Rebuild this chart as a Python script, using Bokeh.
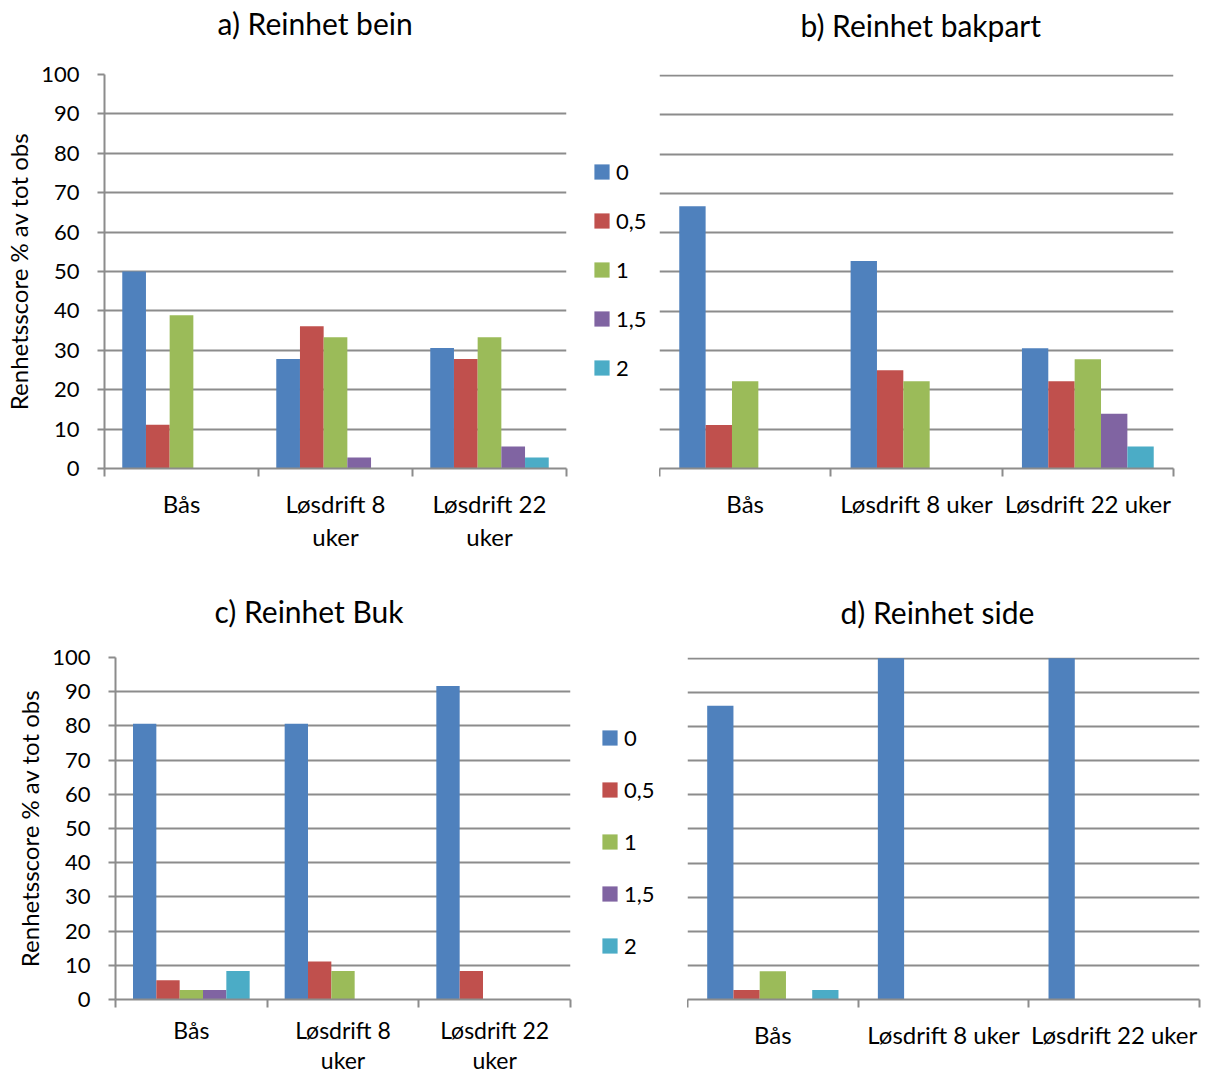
from bokeh.plotting import figure
from bokeh.models import (Range1d, FixedTicker, Legend, LegendItem, LinearAxis, Grid, Title)
from bokeh.layouts import row, column
from bokeh.embed import file_html
from bokeh.resources import INLINE

# ---------------- data ----------------
scores = ["0", "0,5", "1", "1,5", "2"]
colors = ["#4F81BD", "#C0504D", "#9BBB59", "#8064A2", "#4BACC6"]

categories_wrapped = ["Bås", "Løsdrift 8\nuker", "Løsdrift 22\nuker"]
categories_single = ["Bås", "Løsdrift 8 uker", "Løsdrift 22 uker"]

y_ticks = [0, 10, 20, 30, 40, 50, 60, 70, 80, 90, 100]
y_label = "Renhetsscore % av tot obs"

# values in % of total observations, per score, for Bås / Løsdrift 8 uker / Løsdrift 22 uker
bein = {"0": [50.0, 27.8, 30.6], "0,5": [11.1, 36.1, 27.8], "1": [38.9, 33.3, 33.3],
        "1,5": [0.0, 2.8, 5.6], "2": [0.0, 0.0, 2.8]}
bakpart = {"0": [66.7, 52.8, 30.6], "0,5": [11.1, 25.0, 22.2], "1": [22.2, 22.2, 27.8],
           "1,5": [0.0, 0.0, 13.9], "2": [0.0, 0.0, 5.6]}
buk = {"0": [80.6, 80.6, 91.7], "0,5": [5.6, 11.1, 8.3], "1": [2.8, 8.3, 0.0],
       "1,5": [2.8, 0.0, 0.0], "2": [8.3, 0.0, 0.0]}
side = {"0": [86.1, 100.0, 100.0], "0,5": [2.8, 0.0, 0.0], "1": [8.3, 0.0, 0.0],
        "1,5": [0.0, 0.0, 0.0], "2": [2.8, 0.0, 0.0]}

FONT = "Lato"
GRID = "#8c8c8c"
TXT = "#000000"
N = len(scores)
BAR_W = 1.0 / (N + 1.5)


def bar_x(ncat, j):
    return [i + 0.5 + (j - (N - 1) / 2) * BAR_W for i in range(ncat)]


def make_panel(title, cats, data, width, height, borders, show_y,
               title_gap, title_offset, xlab_font, xlab_standoff, xlab_lh):
    left, right, top, bottom = borders
    y_end = 100 if show_y else 100.25
    p = figure(width=width, height=height, output_backend="svg", toolbar_location=None,
               title=None,
               x_range=Range1d(0, 3), y_range=Range1d(0, y_end),
               x_axis_type=None, y_axis_type=None,
               min_border_left=left, min_border_right=right,
               min_border_top=top, min_border_bottom=bottom)
    p.outline_line_color = None
    p.background_fill_color = "white"
    p.border_fill_color = "white"

    # blank spacer between plot area and title, then the title itself
    p.add_layout(Title(text=" ", text_font_size="1px", standoff=title_gap), "above")
    p.add_layout(Title(text=title, text_font=FONT, text_font_size="30px",
                       text_font_style="normal", text_color=TXT,
                       align="left", vertical_align="bottom",
                       offset=title_offset, standoff=0), "above")

    # x axis: labels at category centres, ticks at category boundaries
    xt = FixedTicker(ticks=[0.5, 1.5, 2.5], minor_ticks=[0, 1, 2, 3])
    xa = LinearAxis(ticker=xt,
                    major_label_overrides={0.5: cats[0], 1.5: cats[1], 2.5: cats[2]},
                    major_tick_in=0, major_tick_out=0,
                    minor_tick_in=0, minor_tick_out=8,
                    minor_tick_line_color=GRID, minor_tick_line_width=2,
                    axis_line_color=GRID, axis_line_width=2,
                    major_label_standoff=xlab_standoff,
                    major_label_text_font=FONT, major_label_text_font_size=xlab_font,
                    major_label_text_color=TXT, major_label_text_line_height=xlab_lh)
    p.add_layout(xa, "below")

    yt = FixedTicker(ticks=y_ticks)
    if show_y:
        ya = LinearAxis(ticker=yt,
                        axis_label=y_label,
                        axis_label_text_font=FONT, axis_label_text_font_size="24px",
                        axis_label_text_font_style="normal", axis_label_text_color=TXT,
                        axis_label_standoff=5,
                        major_tick_in=0, major_tick_out=7,
                        major_tick_line_color=GRID, major_tick_line_width=2,
                        minor_tick_line_color=None,
                        axis_line_color=GRID, axis_line_width=2,
                        major_label_standoff=18,
                        major_label_text_font=FONT, major_label_text_font_size="22px",
                        major_label_text_color=TXT)
        p.add_layout(ya, "left")
    p.add_layout(Grid(dimension=1, ticker=yt, grid_line_color=GRID, grid_line_width=2))

    for j, (s, c) in enumerate(zip(scores, colors)):
        p.vbar(x=bar_x(len(cats), j), top=data[s], bottom=0, width=BAR_W,
               fill_color=c, line_color=None)
    return p


def make_legend(width, height, data, spacing, loc):
    """Narrow figure holding the shared legend of the score colours.
    Its renderers carry the panel's data but are hidden; only the legend shows."""
    p = figure(width=width, height=height, output_backend="svg", toolbar_location=None,
               title=None, x_axis_type=None, y_axis_type=None,
               x_range=Range1d(0, 3), y_range=Range1d(0, 100),
               min_border=0)
    p.outline_line_color = None
    p.grid.visible = False
    items = []
    for j, (s, c) in enumerate(zip(scores, colors)):
        r = p.vbar(x=bar_x(3, j), top=data[s], bottom=0, width=BAR_W,
                   fill_color=c, line_color=None, visible=False)
        items.append(LegendItem(label=s, renderers=[r]))
    lg = Legend(items=items, location=loc, orientation="vertical",
                glyph_width=19, glyph_height=19, label_standoff=5,
                label_height=28, spacing=spacing, padding=5, margin=0,
                border_line_color=None, background_fill_alpha=0,
                label_text_font=FONT, label_text_font_size="22px",
                label_text_color=TXT)
    p.add_layout(lg, "center")
    return p


pa = make_panel("a) Reinhet bein", categories_wrapped, bein, 580, 575,
                (104, 14, 74, 107), True, 31, 113, "24px", 12, 1.15)
lb = make_legend(79, 575, bakpart, 21, (12, 87))
pb = make_panel("b) Reinhet bakpart", categories_single, bakpart, 546, 575,
                (0, 32, 74, 107), False, 29, 141, "24px", 12, 1.15)
pc = make_panel("c) Reinhet Buk", categories_wrapped, buk, 580, 502,
                (115, 10, 82, 77), True, 26, 99, "23px", 8, 1.1)
ld = make_legend(107, 502, side, 24, (20, 40))
pd = make_panel("d) Reinhet side", categories_single, side, 518, 502,
                (0, 6, 82, 77), False, 25, 153, "24px", 12, 1.15)

layout = column(row(pa, lb, pb, spacing=0), row(pc, ld, pd, spacing=0), spacing=0)

with open("out.html", "w") as f:
    f.write(file_html(layout, INLINE))
